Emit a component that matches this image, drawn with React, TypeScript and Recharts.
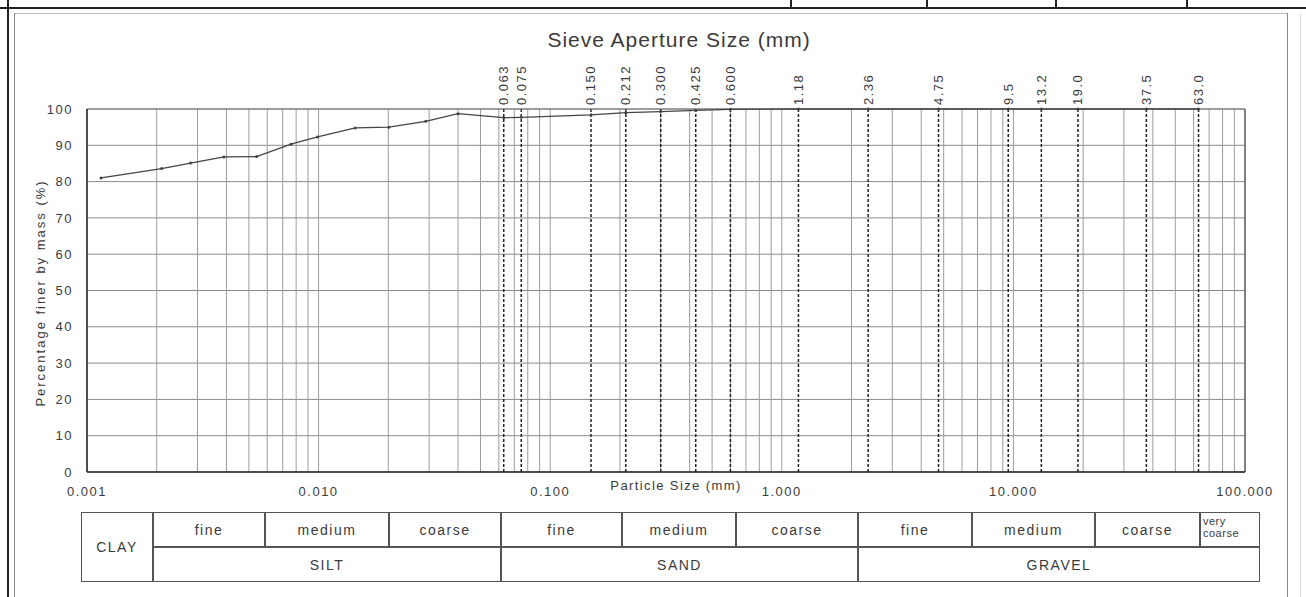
import { LineChart, Line, XAxis, YAxis, ReferenceLine, CartesianGrid } from 'recharts';

// hydrometer readings (fine fraction)
const hydroSizes = [0.00115, 0.0021, 0.0028, 0.0039, 0.0054, 0.0076, 0.0099, 0.0144, 0.0201, 0.029, 0.04];
const hydroPassing = [81.0, 83.6, 85.1, 86.8, 86.9, 90.3, 92.3, 94.8, 95.0, 96.6, 98.7];

// sieve analysis
const sieveSizes = [0.063, 0.075, 0.15, 0.212, 0.3, 0.425, 0.6, 1.18, 2.36, 4.75, 9.5, 13.2, 19.0, 37.5, 63.0];
const sieveLabels = ['0.063', '0.075', '0.150', '0.212', '0.300', '0.425', '0.600', '1.18', '2.36', '4.75', '9.5', '13.2', '19.0', '37.5', '63.0'];
const sievePassing = [97.6, 97.7, 98.4, 99.0, 99.3, 99.6, 99.9, 100, 100, 100, 100, 100, 100, 100, 100];

const decadeTicks = [0.001, 0.01, 0.1, 1, 10, 100];
const percentTicks = [0, 10, 20, 30, 40, 50, 60, 70, 80, 90, 100];

const subGroups = ['fine', 'medium', 'coarse', 'fine', 'medium', 'coarse', 'fine', 'medium', 'coarse'];
const mainGroups = ['SILT', 'SAND', 'GRAVEL'];

const W = 1306;
const H = 597;
const FONT = '"Liberation Sans", Arial, sans-serif';
const INK = '#3a3a3a';

// table column edges (px)
const COLS = [81, 153, 265, 389, 501, 622, 736, 858, 972, 1095, 1200, 1260];
const ROW_TOP = 512;
const ROW_MID = 547;
const ROW_BOT = 582;

const data = [
  ...hydroSizes.map((size, i) => ({ size, passing: hydroPassing[i] })),
  ...sieveSizes.map((size, i) => ({ size, passing: sievePassing[i] })),
];

const minorGrid: number[] = [];
decadeTicks.slice(0, -1).forEach((d) => {
  for (let n = 1; n <= 9; n++) minorGrid.push(+(n * d).toPrecision(3));
});

function SieveLabel(props: any) {
  const { viewBox, text } = props;
  if (!viewBox) return null;
  const x = viewBox.x;
  const y = viewBox.y - 4;
  return (
    <text
      x={x}
      y={y}
      transform={`rotate(-90 ${x} ${y})`}
      textAnchor="start"
      dominantBaseline="central"
      fontSize={13}
      letterSpacing={1.5}
      fill={INK}
      fontFamily={FONT}
    >
      {text}
    </text>
  );
}

function Cell({ left, right, top, bottom, children, small }: any) {
  return (
    <div
      style={{
        position: 'absolute',
        left,
        top,
        width: right - left,
        height: bottom - top,
        border: '1.5px solid #555',
        boxSizing: 'border-box',
        display: 'flex',
        alignItems: small ? 'flex-start' : 'center',
        justifyContent: small ? 'flex-start' : 'center',
        fontSize: small ? 11 : 14,
        lineHeight: small ? '12px' : 'normal',
        letterSpacing: small ? 0.5 : 1.5,
        color: INK,
        paddingLeft: small ? 2 : 0,
        paddingTop: small ? 2 : 0,
      }}
    >
      {children}
    </div>
  );
}

export default function App() {
  return (
    <div
      style={{
        position: 'absolute',
        left: 0,
        top: 0,
        width: W,
        height: H,
        background: '#fff',
        fontFamily: FONT,
        overflow: 'hidden',
      }}
    >
      <LineChart
        width={W}
        height={H}
        data={data}
        margin={{ top: 109, right: 61, bottom: 95, left: 47 }}
      >
        <CartesianGrid vertical={false} stroke="#8a8a8a" strokeWidth={1} />
        {minorGrid.map((g) => (
          <ReferenceLine key={`g${g}`} x={g} stroke="#9c9c9c" strokeWidth={1} />
        ))}
        {sieveSizes.map((s, i) => (
          <ReferenceLine
            key={`s${s}`}
            x={s}
            stroke="#222"
            strokeWidth={1.5}
            strokeDasharray="3 2"
            label={<SieveLabel text={sieveLabels[i]} />}
          />
        ))}
        <ReferenceLine y={100} stroke="#777" strokeWidth={1.2} />
        <ReferenceLine x={100} stroke="#555" strokeWidth={1.5} />
        <XAxis
          dataKey="size"
          type="number"
          scale="log"
          domain={[0.001, 100]}
          allowDataOverflow
          ticks={decadeTicks}
          interval={0}
          tickFormatter={(v: number) => v.toFixed(3)}
          tickLine={false}
          tickMargin={9}
          height={30}
          axisLine={{ stroke: '#222', strokeWidth: 1.5 }}
          tick={{ fontSize: 13, fill: INK, letterSpacing: 1.5, fontFamily: FONT }}
        />
        <YAxis
          type="number"
          domain={[0, 100]}
          ticks={percentTicks}
          interval={0}
          width={40}
          tickLine={false}
          tickMargin={8}
          axisLine={{ stroke: '#222', strokeWidth: 1.5 }}
          tick={{ fontSize: 13, fill: INK, letterSpacing: 1.5, fontFamily: FONT }}
        />
        <Line
          dataKey="passing"
          type="linear"
          stroke="#444"
          strokeWidth={1.3}
          dot={{ r: 1.5, fill: '#444', stroke: 'none' }}
          isAnimationActive={false}
        />
      </LineChart>

      {/* titles */}
      <div
        style={{
          position: 'absolute',
          left: 679,
          top: 40,
          transform: 'translate(-50%, -50%)',
          fontSize: 21,
          letterSpacing: 1,
          color: INK,
          whiteSpace: 'nowrap',
        }}
      >
        Sieve Aperture Size (mm)
      </div>
      <div
        style={{
          position: 'absolute',
          left: 676,
          top: 485,
          transform: 'translate(-50%, -50%)',
          fontSize: 13,
          letterSpacing: 1.4,
          color: INK,
          whiteSpace: 'nowrap',
        }}
      >
        Particle Size (mm)
      </div>
      <div
        style={{
          position: 'absolute',
          left: 40,
          top: 293,
          transform: 'translate(-50%, -50%) rotate(-90deg)',
          fontSize: 13,
          letterSpacing: 2,
          color: INK,
          whiteSpace: 'nowrap',
        }}
      >
        Percentage finer by mass (%)
      </div>

      {/* classification table */}
      <Cell left={COLS[0]} right={COLS[1]} top={ROW_TOP} bottom={ROW_BOT}>CLAY</Cell>
      {subGroups.map((g, i) => (
        <Cell key={`sub${i}`} left={COLS[i + 1]} right={COLS[i + 2]} top={ROW_TOP} bottom={ROW_MID}>
          {g}
        </Cell>
      ))}
      <Cell left={COLS[10]} right={COLS[11]} top={ROW_TOP} bottom={ROW_MID} small>
        very
        <br />
        coarse
      </Cell>
      {mainGroups.map((g, i) => (
        <Cell
          key={`main${g}`}
          left={COLS[1 + i * 3]}
          right={i === 2 ? COLS[11] : COLS[4 + i * 3]}
          top={ROW_MID}
          bottom={ROW_BOT}
        >
          {g}
        </Cell>
      ))}

      {/* page frame */}
      <div style={{ position: 'absolute', left: 0, top: 7, width: W, height: 2, background: '#222' }} />
      <div style={{ position: 'absolute', left: 7, top: 0, width: 2, height: H, background: '#222' }} />
      <div style={{ position: 'absolute', left: 14, top: 13, width: 1273, height: 1, background: '#bbb' }} />
      <div style={{ position: 'absolute', left: 14, top: 13, width: 1, height: H, background: '#888' }} />
      <div style={{ position: 'absolute', left: 1287, top: 13, width: 1, height: H, background: '#888' }} />
      <div style={{ position: 'absolute', left: 1300, top: 13, width: 1, height: H, background: '#ddd' }} />
      {[790, 926, 1055, 1186].map((x) => (
        <div key={x} style={{ position: 'absolute', left: x, top: 0, width: 2, height: 8, background: '#222' }} />
      ))}
    </div>
  );
}
